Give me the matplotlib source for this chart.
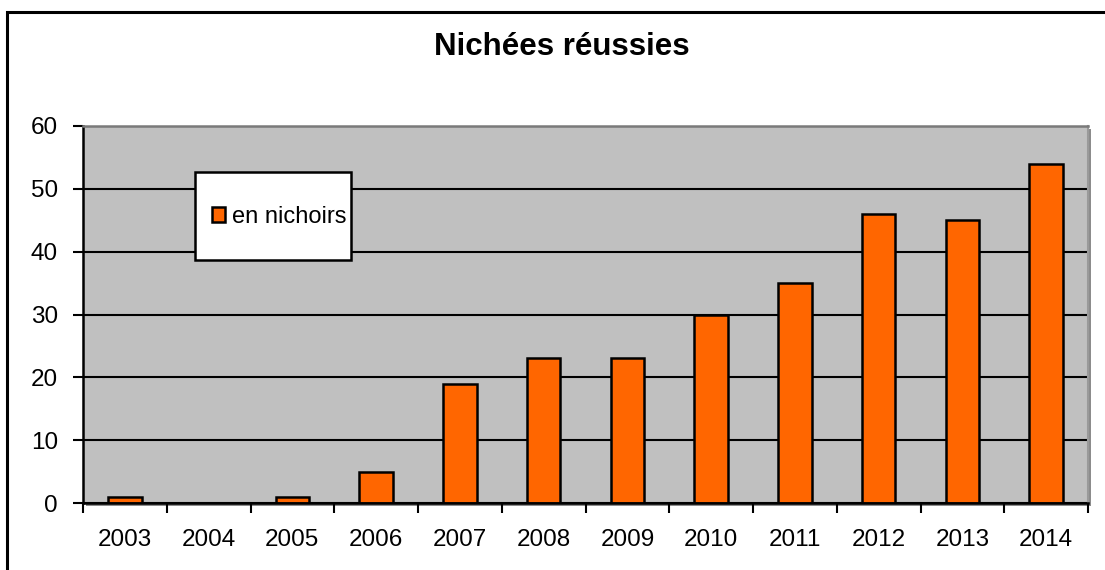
import matplotlib.pyplot as plt
from matplotlib.patches import Rectangle
import numpy as np

plt.rcParams['font.family'] = ['Liberation Sans', 'DejaVu Sans']

# Données
annees = ['2003', '2004', '2005', '2006', '2007', '2008', '2009',
          '2010', '2011', '2012', '2013', '2014']
nichees = [1, 0, 1, 5, 19, 23, 23, 30, 35, 46, 45, 54]

fig = plt.figure(figsize=(11.05, 5.7), dpi=100)
W, H = 1105, 570

# cadre du graphique (coupé à droite et en bas)
fig.patches.append(Rectangle((7 / W, -0.1), 1.2, 1.1 - 12 / H,
                             transform=fig.transFigure, fill=False,
                             edgecolor='black', linewidth=2.2, zorder=-2))

# ombre de la zone de tracé
fig.patches.append(Rectangle((86 / W, 1 - 506 / H), 1005 / W, 377 / H,
                             transform=fig.transFigure, facecolor='#8c8c8c',
                             edgecolor='none', zorder=-1))

ax = fig.add_axes([83 / W, 1 - 503 / H, 1005 / W, 377 / H])
ax.set_zorder(1)

ax.set_facecolor('#C0C0C0')
x = np.arange(len(annees))
ax.bar(x, nichees, width=0.4, color='#FF6600', edgecolor='black',
       linewidth=1.8, label='en nichoirs', zorder=3)

ax.set_xlim(-0.5, len(annees) - 0.5)
ax.set_ylim(0, 60)
ax.set_yticks(range(0, 61, 10))
ax.yaxis.grid(True, color='black', linewidth=1.5, zorder=1)
ax.set_axisbelow(True)

ax.set_xticks(x)
ax.set_xticklabels(annees)
ax.set_xticks(np.arange(-0.5, len(annees), 1), minor=True)
ax.tick_params(axis='x', which='major', length=0, pad=19, labelsize=17.5)
ax.tick_params(axis='x', which='minor', length=7, width=1.5, direction='out')
ax.tick_params(axis='y', length=7, width=1.5, pad=11, labelsize=17.5)

for s in ['left', 'bottom']:
    ax.spines[s].set_linewidth(1.8)
    ax.spines[s].set_color('black')
ax.spines['bottom'].set_zorder(4)
ax.spines['top'].set_color('#7a7a7a')
ax.spines['top'].set_linewidth(1.8)
ax.spines['right'].set_color('#9a9a9a')
ax.spines['right'].set_linewidth(1.5)

# légende
ax.add_patch(Rectangle((0.111, 0.645), 0.156, 0.233, transform=ax.transAxes,
                       facecolor='white', edgecolor='black', linewidth=1.8,
                       zorder=5))
leg = ax.legend(loc='center', bbox_to_anchor=(0.1955, 0.759), frameon=False,
                fontsize=17, handlelength=0.55, handleheight=0.55,
                handletextpad=0.3, borderpad=0)
leg.set_zorder(6)

fig.text(0.508, 1 - 47 / H, 'Nichées réussies', ha='center', va='center',
         fontsize=22.5, fontweight='bold')

fig.savefig('out.png', dpi=100)
